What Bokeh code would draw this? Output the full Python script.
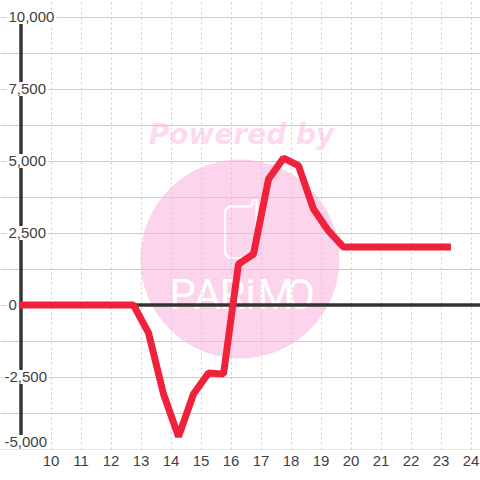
from bokeh.plotting import figure
from bokeh.models import ColumnDataSource, FixedTicker, Range1d
from bokeh.core.properties import value
from bokeh.embed import file_html
from bokeh.resources import INLINE

hours = [8.9, 12.75, 13.25, 13.75, 14.25, 14.75, 15.25, 15.75, 16.25, 16.75, 17.25, 17.75, 18.25, 18.75, 19.25, 19.75, 23.33]
values = [0, 0, -970, -3090, -4570, -3090, -2360, -2400, 1420, 1770, 4370, 5100, 4840, 3330, 2570, 2010, 2010]
x_ticks = list(range(10, 25))
y_ticks = [-5000, -2500, 0, 2500, 5000, 7500, 10000]
y_minor = [-3750, -1250, 1250, 3750, 6250, 8750]
y_labels = ["-5,000", "-2,500", "0", "2,500", "5,000", "7,500", "10,000"]
watermark = "Powered by"
brand = "PARiMO"

TEXT = "#3f3f3f"
GRID = "#cccccc"
PINK = "#fcd5ec"
PINK_TEXT = "#fddbef"

PX_X = 30.0            # pixels per hour
PX_Y = 72.0 / 2500.0   # pixels per unit
X0, X1 = 9 - 20.5 / PX_X, 9 - 20.5 / PX_X + 480 / PX_X
Y1 = 10000 + 16.5 / PX_Y
Y0 = Y1 - 449 / PX_Y


def dx(px):
    return X0 + px / PX_X


def dy(py):
    return Y1 - py / PX_Y


p = figure(width=480, height=480, output_backend="svg", toolbar_location=None,
           x_range=Range1d(X0, X1), y_range=Range1d(Y0, Y1),
           min_border_left=0, min_border_right=0, min_border_top=0, min_border_bottom=31,
           margin=(0, 0, 0, 0))
p.outline_line_color = None
p.background_fill_color = "#ffffff"

p.yaxis.visible = False
p.xaxis.ticker = FixedTicker(ticks=x_ticks)
p.xaxis.axis_line_color = None
p.xaxis.major_tick_line_color = None
p.xaxis.minor_tick_line_color = None
p.xaxis.major_label_text_font = "Liberation Sans"
p.xaxis.major_label_text_font_size = "15px"
p.xaxis.major_label_text_color = TEXT
p.xaxis.major_label_standoff = 0

p.xgrid.ticker = FixedTicker(ticks=x_ticks)
p.xgrid.grid_line_color = GRID
p.xgrid.grid_line_dash = "2 3"
p.xgrid.grid_line_width = 1
p.xgrid.bounds = (-5000, 10000)
p.ygrid.ticker = FixedTicker(ticks=y_ticks + y_minor)
p.ygrid.grid_line_color = GRID
p.ygrid.grid_line_width = 1
p.ygrid.bounds = (9, X1)

# watermark
p.circle(x=[dx(239.5)], y=[dy(258.5)], radius=99.5, radius_units="screen", fill_color=PINK, line_color=None, level="underlay")
p.text(x=[dx(241)], y=[dy(134)], text=[watermark], text_font=value("DejaVu Sans"), text_font_style="bold italic",
       text_font_size="28px", text_color=PINK_TEXT, text_align="center", text_baseline="alphabetic", level="underlay")
brand_px = [182, 207, 232, 250, 275, 300]
for ch, bx in zip(brand, brand_px):
    p.text(x=[dx(bx)], y=[dy(294)], text=[ch], text_font=value("Roboto"),
           text_font_size="42px", text_color="#ffffff", text_align="center", text_baseline="alphabetic", level="underlay")
p.line([dx(v) for v in (251, 229, 224.5, 224.5, 229, 249)],
       [dy(v) for v in (206, 206, 210, 253, 257.5, 257.5)],
       line_color="#ffffff", line_width=2.2, level="underlay")
p.line([dx(v) for v in (251, 253, 256, 256, 254)],
       [dy(v) for v in (206, 199.5, 199.5, 240, 250)],
       line_color="#ffffff", line_width=2.2, level="underlay")

# axes lines
p.segment(x0=[9], y0=[-5000], x1=[9], y1=[10000], line_color="#333333", line_width=3.4)
p.segment(x0=[9], y0=[0], x1=[X1], y1=[0], line_color="#333333", line_width=3.4)

# series
p.line(hours, values, line_color="#f0213a", line_width=7, line_join="bevel")

# y labels
src = ColumnDataSource(dict(
    x=[9] * len(y_ticks), y=y_ticks, t=y_labels,
    xo=[-18.5 if t.startswith("-") else -14.5 for t in y_labels],
    yo=[-7 if v == -5000 else 0 for v in y_ticks],
))
p.text(x="x", y="y", text="t", source=src, x_offset="xo", y_offset="yo", text_align="left", text_baseline="middle",
       text_font=value("Liberation Sans"), text_font_size="15px", text_color=TEXT, text_line_height=1.0,
       padding=2, background_fill_color="#ffffff", level="overlay")

open("out.html", "w").write(file_html(p, INLINE))
